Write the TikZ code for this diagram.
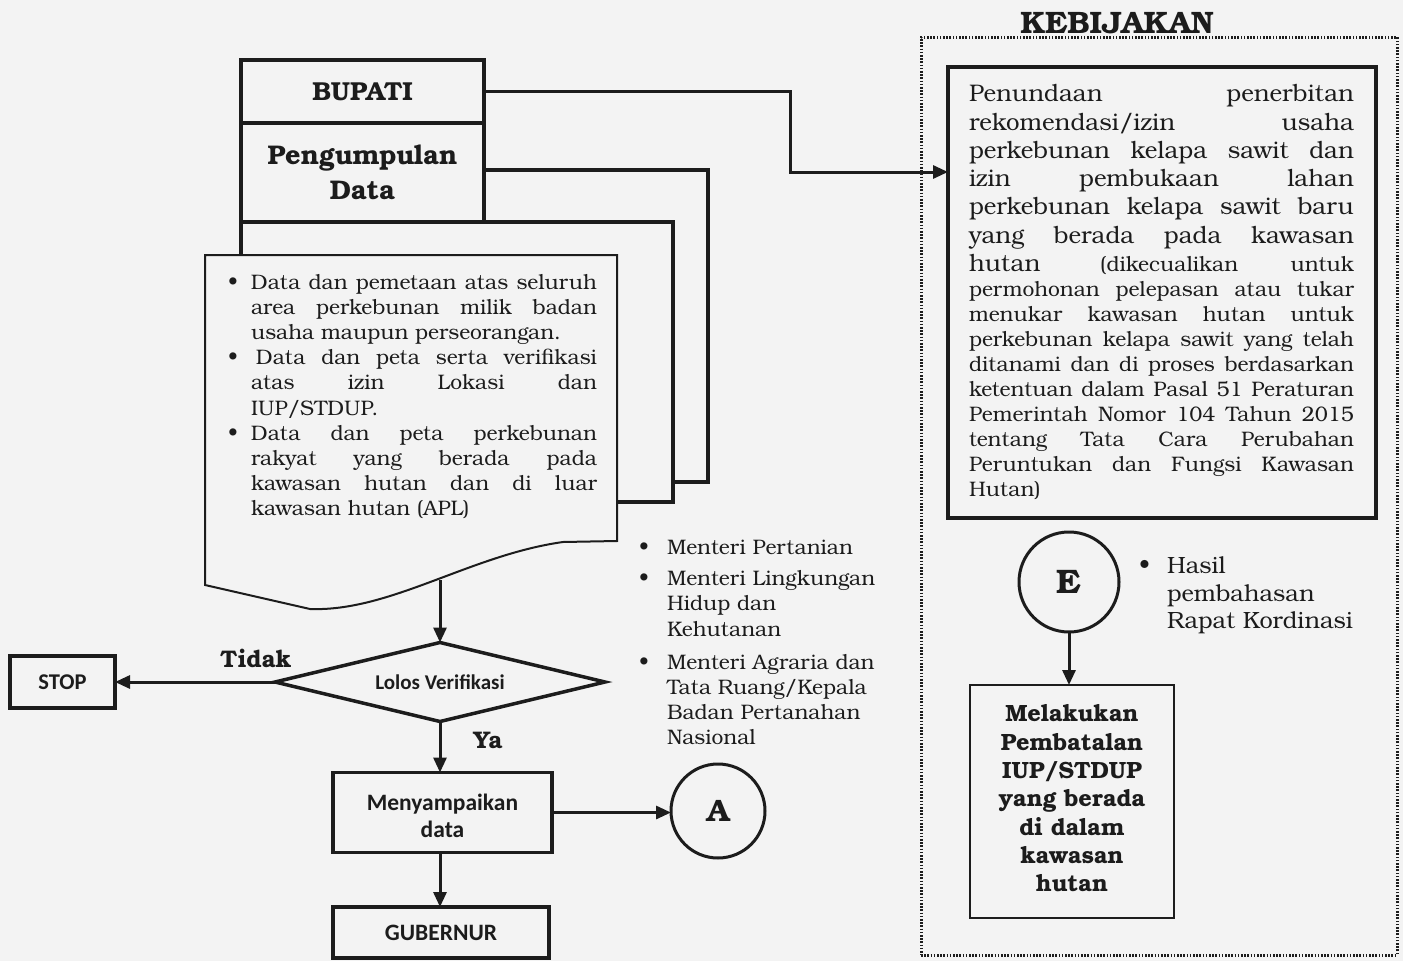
\documentclass[tikz,border=0pt]{standalone}
\usepackage{fontspec}
\setmainfont{TeX Gyre Bonum}
\newfontfamily\calfont{Carlito}
\usetikzlibrary{arrows.meta,shapes.geometric}
\definecolor{bg}{RGB}{243,243,243}
\definecolor{ink}{RGB}{28,28,28}
\newcommand\fs[2]{\fontsize{#1}{#2}\selectfont}
\newcommand\rs{\spaceskip=0pt\xspaceskip=0pt\relax}
\newcommand\pl[1]{\noindent\makebox[385pt][s]{\rs#1}\par}
\newcommand\db[1]{\noindent\makebox[25pt][l]{\hspace{2pt}\textbullet}\makebox[346pt][s]{\rs#1}\par}
\newcommand\dl[1]{\noindent\hspace*{25pt}\makebox[346pt][s]{\rs#1}\par}
\newcommand\dr[1]{\noindent\hspace*{25pt}#1\par}
\begin{document}
\begin{tikzpicture}[x=1pt,y=-1pt,
  every node/.style={text=ink, inner sep=0pt, outer sep=0pt},
  boxthick/.style={draw=ink, line width=3.8pt, fill=bg},
  boxthin/.style={draw=ink, line width=2.5pt, fill=bg},
  conn/.style={draw=ink, line width=3pt},
  arr/.style={conn, -{Triangle[length=15pt,width=13pt]}},
  sansb/.style={font={\calfont\bfseries\fs{23.5}{27}}, align=center},
  serifb/.style={font={\bfseries\fs{24}{26}}},
  body/.style={font={\fs{21}{25.2}}, align=justify, anchor=north west}
]
\fill[bg] (0,0) rectangle (1403,961);
\useasboundingbox (0,0) rectangle (1403,961);

% ---------- left stack ----------
\node[boxthick, minimum width=467, minimum height=312, anchor=north west] (s3) at (241,170) {};
\node[boxthick, minimum width=432, minimum height=280, anchor=north west] (s2) at (241,222) {};
\node[boxthick, minimum width=243, minimum height=63, anchor=north west, font={\bfseries\fs{26}{28}}] (bup) at (241,60) {BUPATI};
\node[boxthick, minimum width=243, minimum height=99, anchor=north west, align=center, font={\bfseries\fs{27}{35}}] (peng) at (241,123) {Pengumpulan\\Data};
\draw[draw=ink, line width=2pt, fill=bg] (205,255) -- (617,255) -- (617,541) -- (563,542) .. controls (470,555) and (390,612) .. (310,609) -- (205,585) -- cycle;
\coordinate (docb) at (440,580);
\node[body, text width=371] (doctext) at (226,274) {%
\db{Data dan pemetaan atas seluruh}
\dl{area perkebunan milik badan}
\dr{usaha maupun perseorangan.}
\db{\hspace{5pt}Data dan peta serta verifikasi}
\dl{atas izin Lokasi dan}
\dr{IUP/STDUP.}
\db{Data dan peta perkebunan}
\dl{rakyat yang berada pada}
\dl{kawasan hutan dan di luar}
\dr{kawasan hutan (APL)}};

% ---------- decision flow ----------
\node[diamond, aspect=4.2, draw=ink, line width=3.5pt, fill=bg, minimum width=330, minimum height=79, font={\calfont\bfseries\fs{21}{24}}] (dia) at (440,682) {Lolos Verifikasi};
\node[boxthick, minimum width=105, minimum height=52, font={\calfont\bfseries\fs{22.5}{24}}] (stop) at (62.5,682) {STOP};
\node[boxthick, minimum width=219, minimum height=80] (menya) at (442.5,812.5) {};
\node[sansb] (menyt) at (442.5,816) {Menyampaikan\\data};
\node[boxthick, sansb, minimum width=216, minimum height=51] (gub) at (441,932.5) {GUBERNUR};
\node[circle, draw=ink, line width=3pt, fill=bg, minimum size=94, font={\bfseries\fs{31}{31}}] (A) at (718,811) {A};
\node[serifb] (tidak) at (256,658) {Tidak};
\node[serifb] (ya) at (488,740) {Ya};

\draw[arr] (docb) -- (dia.north);
\draw[arr] (dia.west) -- (stop.east);
\draw[arr] (dia.south) -- (dia.south |- menya.north);
\draw[arr] (menya.east) -- (menya.east -| A.west);
\draw[arr] (dia.south |- menya.south) -- (dia.south |- gub.north);

\node[body, text width=250] (men) at (639,540) {%
\noindent\makebox[28pt][l]{\textbullet}Menteri Pertanian\par\vspace{6pt}
\noindent\makebox[28pt][l]{\textbullet}Menteri Lingkungan\par
\noindent\hspace*{28pt}Hidup dan\par
\noindent\hspace*{28pt}Kehutanan\par\vspace{8pt}
\noindent\makebox[28pt][l]{\textbullet}Menteri Agraria dan\par
\noindent\hspace*{28pt}Tata Ruang/Kepala\par
\noindent\hspace*{28pt}Badan Pertanahan\par
\noindent\hspace*{28pt}Nasional\par};

% ---------- KEBIJAKAN ----------
\node[font={\bfseries\fs{31}{32}}] (kebt) at (1117,23) {KEBIJAKAN};
\node[draw=ink, line width=3pt, dash pattern=on 1.6pt off 1.6pt, minimum width=476, minimum height=918] (keb) at (1159,496) {};
\node[boxthick, line width=4pt, minimum width=428, minimum height=451] (pol) at (1162,292.5) {};
\node[body, text width=385] (poltext) at (969,84.5) {%
{\fs{24}{28.3}%
\pl{Penundaan penerbitan}
\pl{rekomendasi/izin usaha}
\pl{perkebunan kelapa sawit dan}
\pl{izin pembukaan lahan}
\pl{perkebunan kelapa sawit baru}
\pl{yang berada pada kawasan}
\pl{hutan {\fs{21}{25}(dikecualikan untuk}}
\fs{21}{25}%
\pl{permohonan pelepasan atau tukar}
\pl{menukar kawasan hutan untuk}
\pl{perkebunan kelapa sawit yang telah}
\pl{ditanami dan di proses berdasarkan}
\pl{ketentuan dalam Pasal 51 Peraturan}
\pl{Pemerintah Nomor 104 Tahun 2015}
\pl{tentang Tata Cara Perubahan}
\pl{Peruntukan dan Fungsi Kawasan}
\noindent Hutan)\par}};

\coordinate (bend) at (790,172);
\draw[arr] (bup.east) -| (bend) -- (bend -| pol.west);

\node[circle, draw=ink, line width=3pt, fill=bg, minimum size=100, font={\bfseries\fs{34}{34}}] (E) at (1069,582) {E};
\node[boxthin, minimum width=204, minimum height=233] (mel) at (1072,801.5) {};
\node[text width=200, align=center, font={\bfseries\fs{23.5}{28.3}}] (melt) at (1072,798.5) {Melakukan\\Pembatalan\\IUP/STDUP\\yang berada\\di dalam\\kawasan\\hutan};
\draw[arr] (E.south) -- (E.south |- mel.north);

\node[body, text width=240, font={\fs{23.5}{27.5}}] (hasil) at (1139,557) {%
\noindent\makebox[28pt][l]{\textbullet}Hasil\par
\noindent\hspace*{28pt}pembahasan\par
\noindent\hspace*{28pt}Rapat Kordinasi\par};
\end{tikzpicture}
\end{document}
